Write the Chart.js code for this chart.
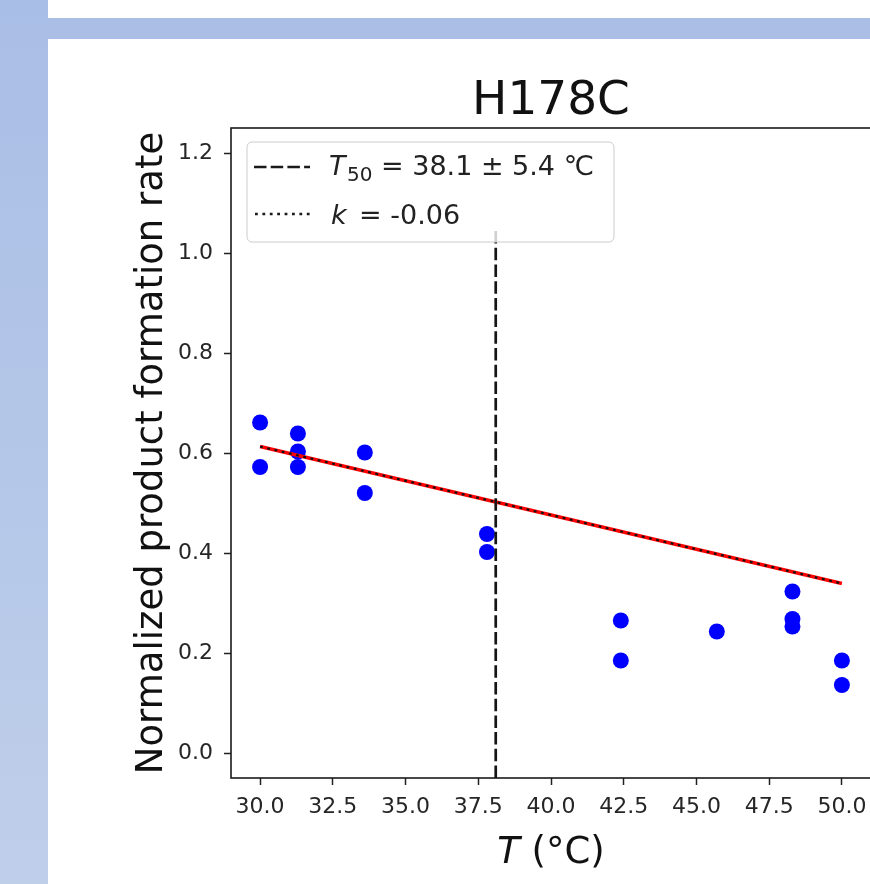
<!DOCTYPE html>
<html><head><meta charset="utf-8">
<script src="https://cdn.jsdelivr.net/npm/chart.js@4.4.1/dist/chart.umd.min.js"></script>
<style>
html,body{margin:0;padding:0;width:870px;height:884px;overflow:hidden;background:#fff;}
#lb{position:absolute;left:0;top:0;width:48px;height:884px;background:linear-gradient(#a9bee6,#bfcfea);}
#tb{position:absolute;left:48px;top:18px;width:822px;height:21px;background:#abbfe6;}
#c{position:absolute;left:0;top:0;}
</style></head><body>
<div id="lb"></div><div id="tb"></div>
<canvas id="c" width="880" height="884"></canvas>
<script>
// ---- data ----
const temperatures = [30.0, 30.0, 31.3, 31.3, 31.3, 33.6, 33.6, 37.8, 37.8, 42.4, 42.4, 45.7, 48.3, 48.3, 48.3, 50.0, 50.0];
const rates        = [0.661, 0.572, 0.639, 0.603, 0.572, 0.601, 0.520, 0.438, 0.402, 0.265, 0.185, 0.243, 0.323, 0.268, 0.253, 0.185, 0.136];
const fitTemps = [30.0, 50.0];
const fitRates = [0.613, 0.339];
const t50 = 38.1;
const t50LineY = [-0.05, 1.05];
const xTicks = [30.0, 32.5, 35.0, 37.5, 40.0, 42.5, 45.0, 47.5, 50.0];
const yTicks = [0.0, 0.2, 0.4, 0.6, 0.8, 1.0, 1.2];
const xRange = [29.0, 51.0];
const yRange = [-0.05, 1.25];
const chartTitle = 'H178C';
const yAxisLabel = 'Normalized product formation rate';
const legendT50 = ['T', '50', '= 38.1 ± 5.4 ℃'];
const legendK = ['k', '= -0.06'];

const FONT = '"DejaVu Sans"';

const decor = {
  id: 'decor',
  afterDraw(chart) {
    const ctx = chart.ctx, a = chart.chartArea;
    ctx.save();
    // spines
    ctx.strokeStyle = '#1a1a1a'; ctx.lineWidth = 1.6; ctx.setLineDash([]);
    ctx.strokeRect(a.left, a.top, a.right - a.left, a.bottom - a.top);
    const cx = (a.left + a.right) / 2;
    // title
    ctx.fillStyle = '#111';
    ctx.textBaseline = 'alphabetic';
    ctx.textAlign = 'center';
    ctx.font = '47px ' + FONT;
    ctx.fillText(chartTitle, cx, a.top - 14);
    // x label: italic T + (°C)
    ctx.textAlign = 'left';
    ctx.font = 'italic 37px ' + FONT;
    const wT = ctx.measureText('T').width;
    ctx.font = '37px ' + FONT;
    const rest = ' (°C)';
    const wR = ctx.measureText(rest).width;
    const sx = cx - (wT + wR) / 2;
    ctx.font = 'italic 37px ' + FONT;
    ctx.fillText('T', sx, a.bottom + 85);
    ctx.font = '37px ' + FONT;
    ctx.fillText(rest, sx + wT, a.bottom + 85);
    // y label
    ctx.save();
    ctx.translate(a.left - 69, (a.top + a.bottom) / 2);
    ctx.rotate(-Math.PI / 2);
    ctx.textAlign = 'center';
    ctx.font = '37px ' + FONT;
    ctx.fillText(yAxisLabel, 0, 0);
    ctx.restore();
    // legend
    const lx = a.left + 16, ly = a.top + 14, lw = 367, lh = 100, r = 5;
    ctx.beginPath();
    ctx.moveTo(lx + r, ly);
    ctx.arcTo(lx + lw, ly, lx + lw, ly + lh, r);
    ctx.arcTo(lx + lw, ly + lh, lx, ly + lh, r);
    ctx.arcTo(lx, ly + lh, lx, ly, r);
    ctx.arcTo(lx, ly, lx + lw, ly, r);
    ctx.closePath();
    ctx.fillStyle = 'rgba(255,255,255,0.8)';
    ctx.fill();
    ctx.strokeStyle = '#cccccc'; ctx.lineWidth = 1;
    ctx.stroke();
    // samples
    ctx.strokeStyle = '#1a1a1a'; ctx.lineWidth = 2.6;
    ctx.setLineDash([12.5, 4.2]);
    ctx.beginPath(); ctx.moveTo(lx + 7, ly + 25); ctx.lineTo(lx + 63, ly + 25); ctx.stroke();
    ctx.setLineDash([2.8, 4.6]);
    ctx.beginPath(); ctx.moveTo(lx + 8, ly + 72); ctx.lineTo(lx + 63, ly + 72); ctx.stroke();
    ctx.setLineDash([]);
    // texts
    ctx.fillStyle = '#222';
    ctx.textAlign = 'left';
    ctx.font = 'italic 27px ' + FONT;
    ctx.fillText(legendT50[0], lx + 82, ly + 33);
    ctx.font = '20px ' + FONT;
    ctx.fillText(legendT50[1], lx + 100, ly + 39);
    ctx.font = '27px ' + FONT;
    ctx.fillText(legendT50[2], lx + 134, ly + 33);
    ctx.font = 'italic 27px ' + FONT;
    ctx.fillText(legendK[0], lx + 84, ly + 82);
    ctx.font = '27px ' + FONT;
    ctx.fillText(legendK[1], lx + 112, ly + 82);
    ctx.restore();
  }
};

new Chart(document.getElementById('c'), {
  type: 'scatter',
  data: {
    datasets: [
      {
        label: 'data',
        data: temperatures.map((t, i) => ({ x: t, y: rates[i] })),
        backgroundColor: '#0000ff', borderColor: '#0000ff', borderWidth: 0,
        pointRadius: 8, pointHoverRadius: 8, order: 10
      },
      {
        label: 'fit',
        type: 'line',
        data: fitTemps.map((t, i) => ({ x: t, y: fitRates[i] })),
        borderColor: '#ff0000', borderWidth: 3.6, pointRadius: 0, fill: false, order: 3
      },
      {
        label: 'k',
        type: 'line',
        data: fitTemps.map((t, i) => ({ x: t, y: fitRates[i] })),
        borderColor: '#111', borderWidth: 2.2, borderDash: [2.8, 4.6], pointRadius: 0, fill: false, order: 2
      },
      {
        label: 'T50',
        type: 'line',
        data: t50LineY.map(v => ({ x: t50, y: v })),
        borderColor: '#151515', borderWidth: 2.7, borderDash: [12.5, 4.2], pointRadius: 0, fill: false, order: 1
      }
    ]
  },
  options: {
    responsive: false, animation: false, devicePixelRatio: 1,
    layout: { padding: { left: 0, top: 128, right: 9, bottom: 0 }, autoPadding: false },
    plugins: { legend: { display: false }, tooltip: { enabled: false }, title: { display: false } },
    events: [],
    scales: {
      x: {
        type: 'linear', min: xRange[0], max: xRange[1],
        afterBuildTicks: s => { s.ticks = xTicks.map(v => ({ value: v })); },
        afterFit: s => { s.height = 106; },
        border: { display: false },
        grid: { drawOnChartArea: false, drawTicks: true, tickLength: 7, tickWidth: 1.5, tickColor: '#222' },
        ticks: { font: { family: 'DejaVu Sans', size: 22 }, color: '#262626', padding: 9, maxRotation: 0,
                 callback: v => v.toFixed(1) }
      },
      y: {
        type: 'linear', min: yRange[0], max: yRange[1],
        afterBuildTicks: s => { s.ticks = yTicks.map(v => ({ value: v })); },
        afterFit: s => { s.width = 231; },
        border: { display: false },
        grid: { drawOnChartArea: false, drawTicks: true, tickLength: 7, tickWidth: 1.5, tickColor: '#222' },
        ticks: { font: { family: 'DejaVu Sans', size: 22 }, color: '#262626', padding: 11,
                 callback: v => v.toFixed(1) }
      }
    }
  },
  plugins: [decor]
});
</script>
</body></html>
